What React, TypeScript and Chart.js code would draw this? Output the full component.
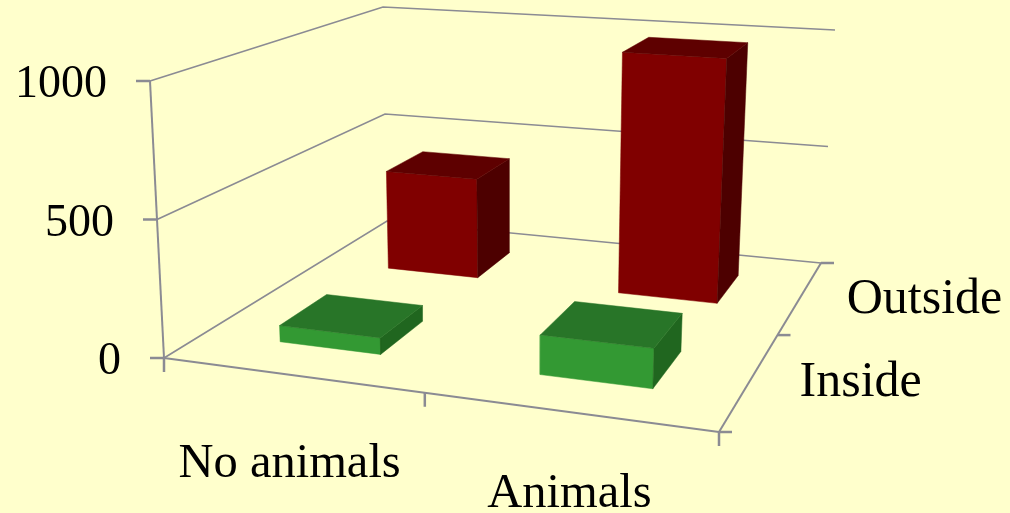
import { useEffect, useRef } from "react";
import { Chart, registerables } from "chart.js";

Chart.register(...registerables);

const categories = ["No animals", "Animals"];
const depthSeries = ["Inside", "Outside"];
const valueTicks = [0, 500, 1000];
const insideValues = [60, 140];
const outsideValues = [410, 975];

const VALUE_MAX = 1000;
const WIDTH = 1010;
const HEIGHT = 513;
const BAR_U = 0.2;
const BAR_V = 0.2;
const BAR_U_SHIFT = 0.004;

type Pt = { x: number; y: number };

// Corners of the box: front-left, front-right, back-right, back-left.
const floorCorners: Pt[] = [
  { x: 164, y: 358 },
  { x: 719, y: 432 },
  { x: 821, y: 263 },
  { x: 387, y: 221 },
];
const ceilingCorners: Pt[] = [
  { x: 150, y: 81 },
  { x: 734, y: 125 },
  { x: 835, y: 30 },
  { x: 383, y: 7 },
];

// Perspective mapping of the unit square onto a quadrilateral.
function squareToQuad(q: Pt[]) {
  const [p0, p1, p2, p3] = q;
  const dx1 = p1.x - p2.x;
  const dx2 = p3.x - p2.x;
  const sx = p0.x - p1.x + p2.x - p3.x;
  const dy1 = p1.y - p2.y;
  const dy2 = p3.y - p2.y;
  const sy = p0.y - p1.y + p2.y - p3.y;
  const det = dx1 * dy2 - dx2 * dy1;
  const g = (sx * dy2 - dx2 * sy) / det;
  const h = (dx1 * sy - sx * dy1) / det;
  const a = p1.x - p0.x + g * p1.x;
  const b = p3.x - p0.x + h * p3.x;
  const d = p1.y - p0.y + g * p1.y;
  const e = p3.y - p0.y + h * p3.y;
  return (u: number, v: number): Pt => {
    const w = g * u + h * v + 1;
    return { x: (a * u + b * v + p0.x) / w, y: (d * u + e * v + p0.y) / w };
  };
}

const floorMap = squareToQuad(floorCorners);
const ceilingMap = squareToQuad(ceilingCorners);

// u runs along the categories, v into the depth, value up the wall.
function project(u: number, v: number, value: number): Pt {
  const t = value / VALUE_MAX;
  const f = floorMap(u, v);
  const c = ceilingMap(u, v);
  return { x: f.x + (c.x - f.x) * t, y: f.y + (c.y - f.y) * t };
}

const AXIS_COLOR = "#8b8b93";
const BACKGROUND = "#ffffcc";
const INSIDE_FACES = { front: "#339933", top: "#287528", side: "#20661f" };
const OUTSIDE_FACES = { front: "#800000", top: "#5e0000", side: "#4d0000" };

function lineSet(points: Pt[], width = 2) {
  return {
    data: points,
    showLine: true,
    borderColor: AXIS_COLOR,
    borderWidth: width,
    pointRadius: 0,
    fill: false,
  };
}

function faceSet(points: Pt[], color: string) {
  return {
    data: [...points, points[0]],
    showLine: true,
    borderColor: color,
    borderWidth: 0.5,
    backgroundColor: color,
    pointRadius: 0,
    fill: "shape",
  };
}

function barFaces(cat: number, depth: number, value: number, faces: typeof INSIDE_FACES) {
  const cu = (cat + 0.5) / categories.length + BAR_U_SHIFT;
  const cv = (depth + 0.5) / depthSeries.length;
  const u0 = cu - BAR_U / 2;
  const u1 = cu + BAR_U / 2;
  const v0 = cv - BAR_V / 2;
  const v1 = cv + BAR_V / 2;
  return [
    faceSet([project(u0, v0, 0), project(u1, v0, 0), project(u1, v0, value), project(u0, v0, value)], faces.front),
    faceSet([project(u1, v0, 0), project(u1, v1, 0), project(u1, v1, value), project(u1, v0, value)], faces.side),
    faceSet([project(u0, v0, value), project(u1, v0, value), project(u1, v1, value), project(u0, v1, value)], faces.top),
  ];
}

function buildDatasets() {
  const sets: any[] = [];
  const shift = (p: Pt, dx: number, dy: number): Pt => ({ x: p.x + dx, y: p.y + dy });

  // Wall gridlines and the floor outline.
  valueTicks.forEach((tick) => {
    sets.push(lineSet([project(0, 0, tick), project(0, 1, tick), project(1, 1, tick)], 1.7));
  });
  sets.push(lineSet([project(0, 0, 0), project(0, 0, VALUE_MAX)]));
  sets.push(lineSet([project(0, 0, 0), project(1, 0, 0)]));
  sets.push(lineSet([project(1, 0, 0), project(1, 1, 0)]));

  // Tick marks on the three axes.
  valueTicks.forEach((tick) => {
    const p = project(0, 0, tick);
    sets.push(lineSet([p, shift(p, -14, 0)], 2.5));
  });
  for (let i = 0; i <= categories.length; i++) {
    const p = project(i / categories.length, 0, 0);
    sets.push(lineSet([p, shift(p, 0, 14)], 2.5));
  }
  for (let i = 0; i <= depthSeries.length; i++) {
    const p = project(1, i / depthSeries.length, 0);
    sets.push(lineSet([p, shift(p, 13, 0)], 2.5));
  }

  // Back row first so the nearer bars paint over it.
  outsideValues.forEach((value, cat) => sets.push(...barFaces(cat, 1, value, OUTSIDE_FACES)));
  insideValues.forEach((value, cat) => sets.push(...barFaces(cat, 0, value, INSIDE_FACES)));

  // Earlier entries paint first: a higher order value is drawn lower in the stack.
  return sets.map((s, i) => ({ ...s, order: sets.length - i }));
}

// Label placement relative to each label's point on its axis.
const CATEGORY_OFFSETS = [
  { dx: -1, dy: 102 },
  { dx: 2, dy: 95 },
];
const DEPTH_OFFSETS = [
  { dx: 49, dy: 16 },
  { dx: 46, dy: 16 },
];

const axisLabels = {
  id: "axisLabels",
  afterDatasetsDraw(chart: any) {
    const { ctx } = chart;
    ctx.save();
    ctx.fillStyle = "#000000";
    ctx.textBaseline = "alphabetic";
    ctx.font = '46px "Liberation Serif", serif';
    ctx.textAlign = "right";
    valueTicks.forEach((tick) => {
      const p = project(0, 0, tick);
      ctx.fillText(String(tick), p.x - 43, p.y + 16);
    });
    ctx.font = '48.5px "Liberation Serif", serif';
    ctx.textAlign = "center";
    categories.forEach((name, i) => {
      const p = project((i + 0.5) / categories.length, 0, 0);
      ctx.fillText(name, p.x + CATEGORY_OFFSETS[i].dx, p.y + CATEGORY_OFFSETS[i].dy);
    });
    ctx.font = '50px "Liberation Serif", serif';
    ctx.textAlign = "left";
    depthSeries.forEach((name, i) => {
      const p = project(1, (i + 0.5) / depthSeries.length, 0);
      ctx.fillText(name, p.x + DEPTH_OFFSETS[i].dx, p.y + DEPTH_OFFSETS[i].dy);
    });
    ctx.restore();
  },
};

export default function App() {
  const canvasRef = useRef<HTMLCanvasElement>(null);

  useEffect(() => {
    document.body.style.margin = "0";
    document.body.style.background = BACKGROUND;
    const chart = new Chart(canvasRef.current as HTMLCanvasElement, {
      type: "scatter",
      data: { datasets: buildDatasets() },
      options: {
        responsive: false,
        animation: false,
        layout: { padding: 0 },
        events: [],
        plugins: { legend: { display: false }, tooltip: { enabled: false } },
        scales: {
          x: { type: "linear", min: 0, max: WIDTH, display: false },
          y: { type: "linear", min: 0, max: HEIGHT, reverse: true, display: false },
        },
      },
      plugins: [axisLabels],
    } as any);
    return () => chart.destroy();
  }, []);

  return (
    <canvas
      ref={canvasRef}
      width={WIDTH}
      height={HEIGHT}
      style={{ display: "block", background: BACKGROUND }}
    />
  );
}
